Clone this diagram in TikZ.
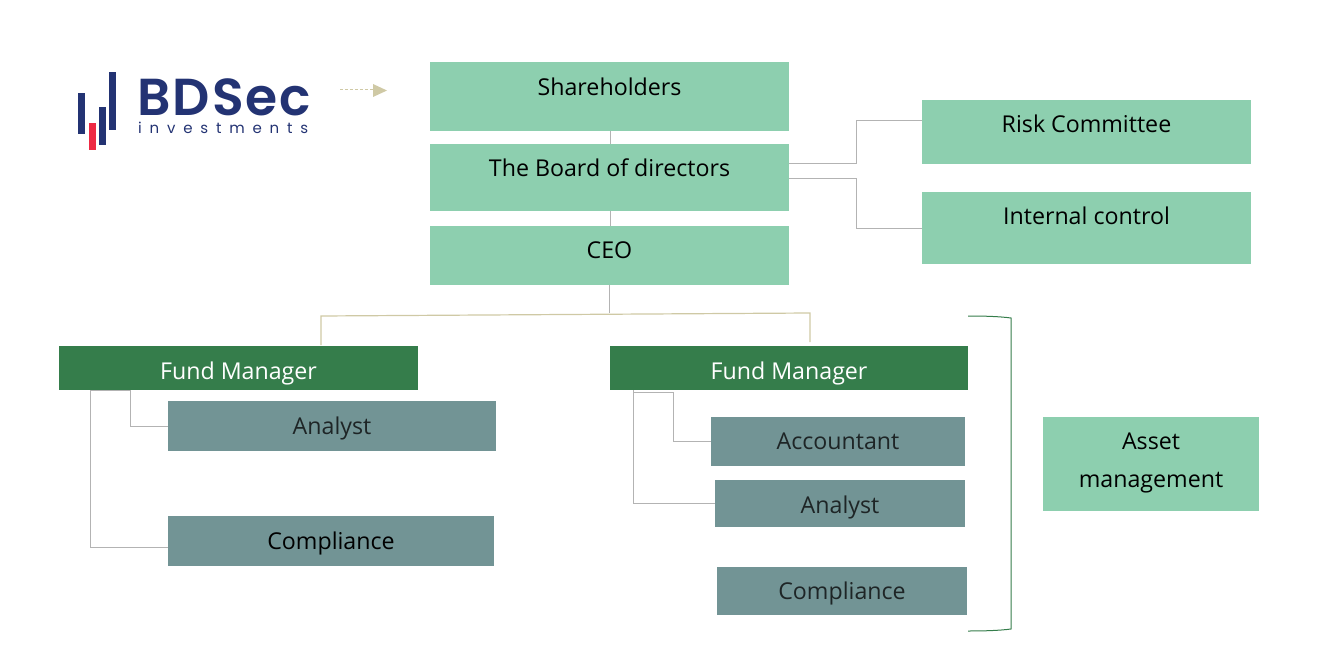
\documentclass[tikz,border=0pt]{standalone}
\usepackage{fontspec}
\setmainfont{Open Sans}
\newfontfamily\logofont[LetterSpace=4]{Poppins SemiBold}
\newfontfamily\logosub[LetterSpace=52]{Poppins}
\definecolor{lightg}{HTML}{8DCFAF}
\definecolor{darkg}{HTML}{357D4B}
\definecolor{grayt}{HTML}{729495}
\definecolor{tan}{HTML}{CFC9A5}
\definecolor{linegray}{HTML}{B3B3B3}
\definecolor{navy}{HTML}{233373}
\definecolor{logored}{HTML}{EE2A44}
\definecolor{ink}{HTML}{1E2526}
\newcommand{\up}[2]{\raisebox{#1pt}{#2}}
\tikzset{
  basebox/.style={draw=none,inner sep=0pt,outer sep=0pt,align=center,font=\fontsize{23.2}{38}\selectfont,text height=19pt,text depth=2pt},
  lightbox/.style={basebox,fill=lightg,text=black},
  darkbox/.style={basebox,fill=darkg,text=white},
  graybox/.style={basebox,fill=grayt,text=ink},
  conn/.style={draw=linegray,line width=1pt},
  tanconn/.style={draw=tan,line width=1.2pt},
  logobar/.style={fill=navy,draw=none},
}
\begin{document}
\begin{tikzpicture}[x=1pt,y=-1pt]
\useasboundingbox (0,0) rectangle (1330,652);
% top boxes
\node[lightbox,minimum width=359pt,minimum height=69pt] (sh) at (609.5,96.5) {\up{9}{Shareholders}};
\node[lightbox,minimum width=359pt,minimum height=67pt] (bd) at (609.5,177.5) {\up{9}{The Board of directors}};
\node[lightbox,minimum width=359pt,minimum height=59pt] (ceo) at (609.5,255.5) {\up{5}{CEO}};
\node[lightbox,minimum width=329pt,minimum height=64pt] (risk) at (1086.5,132) {\up{8}{Risk Committee}};
\node[lightbox,minimum width=329pt,minimum height=72pt] (ic) at (1086.5,228) {\up{12}{Internal control}};
% fund managers
\node[darkbox,minimum width=359pt,minimum height=44pt] (fm1) at (238.5,368) {\up{-3}{Fund Manager}};
\node[darkbox,minimum width=358pt,minimum height=44pt] (fm2) at (789,368) {\up{-3}{Fund Manager}};
% staff
\node[graybox,minimum width=328pt,minimum height=50pt] (an1) at (332,426) {Analyst};
\node[graybox,text=black,minimum width=326pt,minimum height=50pt] (co1) at (331,541) {Compliance};
\node[graybox,minimum width=254pt,minimum height=49pt] (acc) at (838,441.5) {\up{1}{Accountant}};
\node[graybox,minimum width=250pt,minimum height=47pt] (an2) at (840,503.5) {\up{-1.5}{Analyst}};
\node[graybox,minimum width=250pt,minimum height=48pt] (co2) at (842,591) {Compliance};
\node[lightbox,minimum width=216pt,minimum height=94pt,text height=47pt,text depth=0pt] (am) at (1151,464) {Asset\\management};
% connectors
\coordinate (t1) at (321,316);
\coordinate (t2) at (810,313);
\coordinate (tm) at (609.5,313);
\draw[conn] (sh.south -| 610,0) -- (bd.north -| 610,0);
\draw[conn] (bd.south -| 610,0) -- (ceo.north -| 610,0);
\draw[conn] (ceo.south -| tm) -- (tm);
\draw[tanconn] (321,345) -- (t1) -- (t2) -- (810,342);
\draw[conn] (bd.east |- 0,164) -| (856,121) -- (risk.west |- 0,121);
\draw[conn] (bd.east |- 0,178.5) -| (856,229) -- (ic.west |- 0,229);
\draw[conn] (fm1.south -| 90,0) |- (co1.west |- 0,547.5);
\draw[conn] (90,390) -- (130,390) |- (an1.west);
\draw[conn] (fm2.south -| 633,0) |- (an2.west |- 0,503);
\draw[conn] (633,392) -| (673,441) -- (acc.west |- 0,441);
% bracket
\draw[darkg,line width=1pt] (968,316) .. controls (985,316) and (1000,316.5) .. (1011,318) -- (1011,629) .. controls (1000,630.5) and (985,631) .. (968,631);
% arrow
\coordinate (ar1) at (340,90);
\coordinate (ar2) at (373,90);
\draw[tan,line width=1pt,dash pattern=on 3pt off 2pt] (ar1) -- (ar2);
\fill[tan] (373,84) -- (387,90.5) -- (373,97) -- cycle;
% logo
\fill[logobar] (78,93) rectangle (85,134);
\fill[logored] (89,123) rectangle (96,150);
\fill[logobar] (99,107) rectangle (106,145);
\fill[logobar] (109,72) rectangle (116,130);
\node[anchor=base west,inner sep=0pt,text=navy,font=\logofont\fontsize{52}{52}\selectfont] (logo) at (137,116) {BDSec};
\node[anchor=base west,inner sep=0pt,text=navy,font=\logosub\fontsize{15}{15}\selectfont] (logob) at (138,134) {investments};
\end{tikzpicture}
\end{document}
